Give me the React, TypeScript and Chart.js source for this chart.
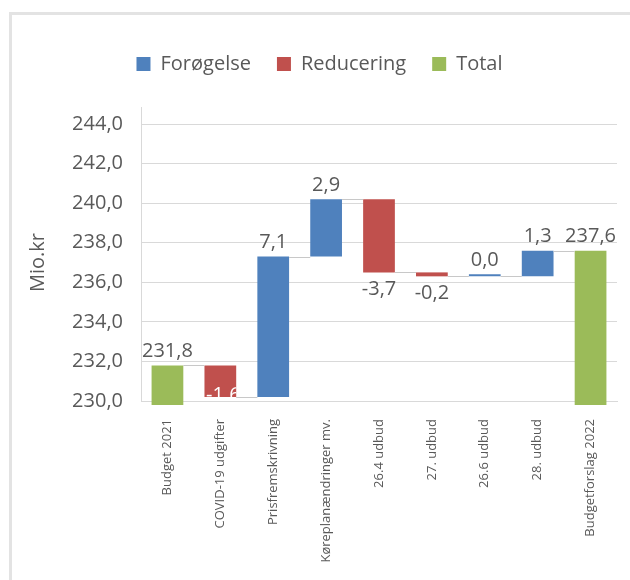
import React, { useEffect, useRef } from 'react';
import { Chart, registerables } from 'chart.js';

Chart.register(...registerables);

const categories = [
  'Budget 2021',
  'COVID-19 udgifter',
  'Prisfremskrivning',
  'Køreplanændringer mv.',
  '26.4 udbud',
  '27. udbud',
  '26.6 udbud',
  '28. udbud',
  'Budgetforslag 2022',
];
const values = [231.8, -1.6, 7.1, 2.9, -3.7, -0.2, 0.0, 1.3, 237.6];
const kinds = ['total', 'dec', 'inc', 'inc', 'dec', 'dec', 'inc', 'inc', 'total'];
const seriesKinds = ['inc', 'dec', 'total'];
const seriesNames = ['Forøgelse', 'Reducering', 'Total'];
const seriesColors = ['#4f81bd', '#c0504d', '#9bbb59'];
const yMin = 230;
const yMax = 244;
const yStep = 2;
const axisTitle = 'Mio.kr';

const FONT = '"Open Sans", "Noto Sans", sans-serif';
const TEXT = '#595959';
const GRID = '#d9d9d9';

const fmt = (v: number) => v.toFixed(1).replace('.', ',');

// waterfall ranges computed from values
const ranges: [number, number][] = [];
const ends: number[] = [];
{
  let run = 0;
  values.forEach((v, i) => {
    if (kinds[i] === 'total') {
      run = v;
      ranges.push([yMin - 0.2, v]);
    } else {
      const s = run;
      run = s + v;
      ranges.push([s, run]);
    }
    ends.push(run);
  });
}

const waterfallPlugin = {
  id: 'waterfallDeco',
  beforeInit(chart: any) {
    const legend = chart.legend;
    if (legend) {
      const orig = legend.fit;
      legend.fit = function () {
        orig.call(this);
        this.height = 96;
      };
    }
  },
  afterDatasetsDraw(chart: any) {
    const { ctx, chartArea, scales } = chart;
    const yScale = scales.y;
    const bars = categories.map((_, i) => {
      const d = seriesKinds.indexOf(kinds[i]);
      const el = chart.getDatasetMeta(d).data[i];
      return el.getProps(['x', 'y', 'base', 'width'], true);
    });
    ctx.save();
    // axis line extension above plot
    ctx.strokeStyle = GRID;
    ctx.lineWidth = 1;
    ctx.beginPath();
    ctx.moveTo(Math.round(chartArea.left) + 0.5, chartArea.top - 17);
    ctx.lineTo(Math.round(chartArea.left) + 0.5, chartArea.top);
    ctx.stroke();
    // connectors
    ctx.strokeStyle = '#c8c8c8';
    for (let i = 0; i < bars.length - 1; i++) {
      const yp = Math.round(yScale.getPixelForValue(ends[i])) + 0.5;
      ctx.beginPath();
      ctx.moveTo(bars[i].x + bars[i].width / 2, yp);
      ctx.lineTo(bars[i + 1].x - bars[i + 1].width / 2, yp);
      ctx.stroke();
    }
    // labels
    ctx.font = `20px ${FONT}`;
    ctx.textAlign = 'center';
    ctx.textBaseline = 'middle';
    bars.forEach((b, i) => {
      const top = Math.min(b.y, b.base);
      const bottom = Math.max(b.y, b.base);
      const txt = fmt(values[i]);
      if (kinds[i] === 'dec') {
        if (bottom + 27 > chartArea.bottom) {
          ctx.save();
          ctx.beginPath();
          ctx.rect(b.x - b.width / 2, top, b.width, bottom - top);
          ctx.clip();
          ctx.fillStyle = '#ffffff';
          ctx.fillText(txt, b.x + 3, bottom - 2);
          ctx.restore();
        } else {
          ctx.fillStyle = TEXT;
          ctx.fillText(txt, b.x, bottom + 17);
        }
      } else {
        ctx.fillStyle = TEXT;
        ctx.fillText(txt, b.x, top - 14);
      }
    });
    ctx.restore();
  },
};

export default function App() {
  const ref = useRef<HTMLCanvasElement | null>(null);
  useEffect(() => {
    if (!ref.current) return;
    const chart = new Chart(ref.current, {
      type: 'bar',
      data: {
        labels: categories,
        datasets: seriesKinds.map((k, d) => ({
          label: seriesNames[d],
          data: ranges.map((r, i) => (kinds[i] === k ? r : null)) as any,
          backgroundColor: seriesColors[d],
          borderWidth: 0,
          barPercentage: 0.6,
          categoryPercentage: 1,
          minBarLength: 2,
          clip: false as any,
        })),
      },
      options: {
        responsive: false,
        animation: false,
        layout: { padding: { left: 22, right: 13, top: 28, bottom: 0 } },
        plugins: {
          legend: {
            position: 'top',
            labels: {
              boxWidth: 14,
              boxHeight: 14,
              padding: 26,
              color: TEXT,
              font: { family: FONT, size: 20 },
            },
          },
          tooltip: { enabled: false },
        },
        scales: {
          x: {
            stacked: true,
            grid: { display: false, drawTicks: false },
            border: { display: true, color: GRID, width: 1 },
            ticks: {
              color: TEXT,
              font: { family: FONT, size: 13 },
              maxRotation: 90,
              minRotation: 90,
              autoSkip: false,
              padding: 18,
            },
            afterFit: (s: any) => {
              s.height = 580 - 401;
            },
          },
          y: {
            stacked: false,
            min: yMin,
            max: yMax,
            grid: { color: GRID, lineWidth: 1, drawTicks: false },
            border: { display: true, color: GRID, width: 1 },
            ticks: {
              stepSize: yStep,
              color: TEXT,
              font: { family: FONT, size: 20 },
              padding: 18,
              callback: (v: any) => fmt(Number(v)),
            },
            title: {
              display: true,
              text: axisTitle,
              color: TEXT,
              font: { family: FONT, size: 20 },
              padding: { top: 4, bottom: 22 },
            },
            afterFit: (s: any) => {
              s.width = 141 - 22;
            },
          },
        },
      },
      plugins: [waterfallPlugin],
    });
    return () => chart.destroy();
  }, []);

  return (
    <div style={{ position: 'absolute', left: 0, top: 0, width: 630, height: 580, background: '#fff' }}>
      <div
        style={{
          position: 'absolute',
          left: 9,
          top: 12,
          right: 0,
          bottom: 0,
          borderLeft: '3px solid #e3e3e3',
          borderTop: '3px solid #e3e3e3',
        }}
      />
      <canvas ref={ref} width={630} height={580} style={{ position: 'absolute', left: 0, top: 0, display: 'block' }} />
    </div>
  );
}
